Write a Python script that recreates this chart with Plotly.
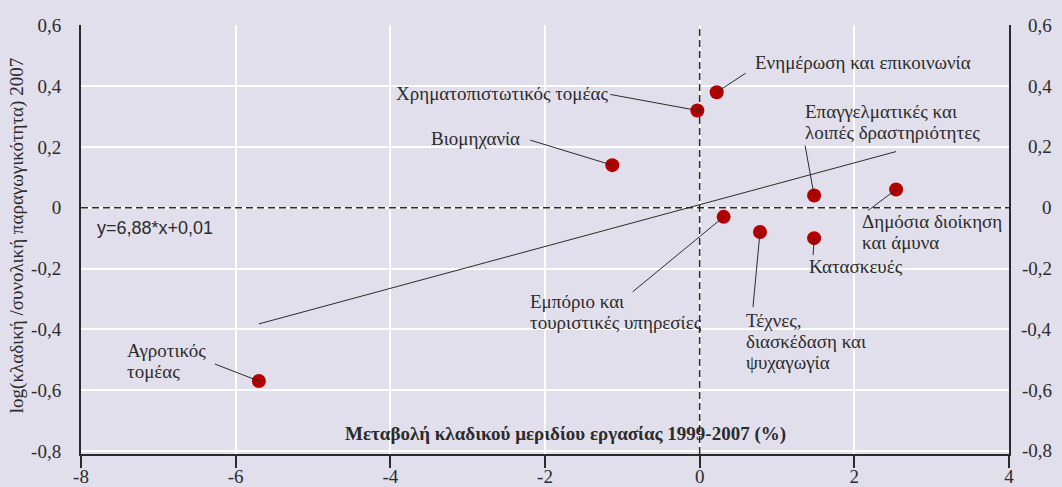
import plotly.graph_objects as go

# Sector data: change in sector labour share 1999-2007 (%) vs log relative productivity 2007
sectors = [
    "Αγροτικός<br>τομέας",
    "Βιομηχανία",
    "Χρηματοπιστωτικός τομέας",
    "Ενημέρωση και επικοινωνία",
    "Επαγγελματικές και<br>λοιπές δραστηριότητες",
    "Δημόσια διοίκηση<br>και άμυνα",
    "Εμπόριο και<br>τουριστικές υπηρεσίες",
    "Τέχνες,<br>διασκέδαση και<br>ψυχαγωγία",
    "Κατασκευές",
]
labor_share_change = [-5.70, -1.13, -0.03, 0.22, 1.48, 2.54, 0.31, 0.78, 1.48]
rel_productivity = [-0.57, 0.14, 0.32, 0.38, 0.04, 0.06, -0.03, -0.08, -0.10]

# Fitted trend (x expressed as a fraction): y = 6,88*x + 0,01
slope = 6.88
intercept = 0.01

x_ticks = [-8, -6, -4, -2, 0, 2, 4]
x_ticktext = ["-8", "-6", "-4", "-2", "0", "2", "4"]
y_ticks = [0.6, 0.4, 0.2, 0, -0.2, -0.4, -0.6, -0.8]
y_ticktext = ["0,6", "0,4", "0,2", "0", "-0,2", "-0,4", "-0,6", "-0,8"]

# Label placement: (xanchor, xshift px, yshift px of block centre) and leader end offset (dx, dy px)
label_pos = {
    "Αγροτικός<br>τομέας": ("left", -134, 20, -44, 17),
    "Βιομηχανία": ("right", -90, 27, -82, 25),
    "Χρηματοπιστωτικός τομέας": ("right", -87, 17, -87, 16),
    "Ενημέρωση και επικοινωνία": ("left", 36, 30, 29, 19),
    "Επαγγελματικές και<br>λοιπές δραστηριότητες": ("left", -11, 74, -9, 50),
    "Δημόσια διοίκηση<br>και άμυνα": ("left", -36, -43, -28, -21),
    "Εμπόριο και<br>τουριστικές υπηρεσίες": ("left", -196, -95, -91, -75),
    "Τέχνες,<br>διασκέδαση και<br>ψυχαγωγία": ("left", -16, -109, -7, -75),
    "Κατασκευές": ("left", -7, -28, -1, -17),
}
LINE_GAP = 21  # px between lines of a multi-line label

BG = "#e2dfec"
INK = "#2b2b2b"
SERIF = "Liberation Serif, Times New Roman, serif"
LABEL_SIZE = 19

fig = go.Figure()

# Trend line across the observed range
x_min, x_max = min(labor_share_change), max(labor_share_change)
fig.add_trace(go.Scatter(
    x=[x_min, x_max],
    y=[slope * x_min / 100 + intercept, slope * x_max / 100 + intercept],
    mode="lines", line=dict(color=INK, width=1), hoverinfo="skip", showlegend=False,
))

shapes = []
# Zero reference lines (dashed), laid over a background-coloured strip hiding the grid
for ref in ("x", "y"):
    if ref == "x":
        base = dict(type="line", xref="x", yref="paper", x0=0, x1=0, y0=0, y1=1)
    else:
        base = dict(type="line", xref="paper", yref="y", x0=0, x1=1, y0=0, y1=0)
    shapes.append(dict(base, line=dict(color=BG, width=2.5), layer="below"))
    shapes.append(dict(base, line=dict(color=INK, width=1.5, dash="7px,4px"), layer="above"))

annotations = []
for name, xv, yv in zip(sectors, labor_share_change, rel_productivity):
    anchor, xs, ys, dx, dy = label_pos[name]
    shapes.append(dict(
        type="line", xsizemode="pixel", ysizemode="pixel",
        xanchor=xv, yanchor=yv, xref="x", yref="y",
        x0=0, y0=0, x1=dx, y1=dy,
        line=dict(color=INK, width=1),
    ))
    lines = name.split("<br>")
    n = len(lines)
    for i, line_text in enumerate(lines):
        annotations.append(dict(
            x=xv, y=yv, xref="x", yref="y", text=line_text, showarrow=False,
            xanchor=anchor, yanchor="middle", align="left",
            xshift=xs, yshift=ys + (n - 1) / 2 * LINE_GAP - i * LINE_GAP,
            font=dict(family=SERIF, size=LABEL_SIZE, color=INK),
        ))

# Points
fig.add_trace(go.Scatter(
    x=labor_share_change, y=rel_productivity, mode="markers",
    marker=dict(color="#b00000", size=14, line=dict(width=0)),
    hoverinfo="skip", showlegend=False,
))

# Regression equation
annotations.append(dict(
    x=0.015, y=-0.068, xref="paper", yref="y", text="y=6,88*x+0,01",
    showarrow=False, xanchor="left", yanchor="middle",
    font=dict(family="Liberation Sans, Arial, sans-serif", size=18, color=INK),
))

# Axis titles
annotations.append(dict(
    x=-1.73, y=-0.745, xref="x", yref="y",
    text="<b>Μεταβολή κλαδικού μεριδίου εργασίας 1999-2007 (%)</b>",
    showarrow=False, xanchor="center", yanchor="middle",
    font=dict(family=SERIF, size=19, color=INK),
))
annotations.append(dict(
    x=-0.069, y=0.51, xref="paper", yref="paper",
    text="log(κλαδική /συνολική παραγωγικότητα) 2007",
    textangle=-90, showarrow=False, xanchor="center", yanchor="middle",
    font=dict(family=SERIF, size=19, color=INK),
))

# Right-hand tick labels mirroring the left axis
for val, txt in zip(y_ticks, y_ticktext):
    annotations.append(dict(
        x=1, y=val, xref="paper", yref="y", text=txt, showarrow=False,
        xanchor="right", yanchor="middle", xshift=45,
        font=dict(family=SERIF, size=19, color=INK),
    ))

fig.update_layout(
    width=1062, height=487,
    margin=dict(l=81, r=53, t=25, b=33),
    paper_bgcolor=BG, plot_bgcolor=BG,
    shapes=shapes, annotations=annotations,
    showlegend=False,
    xaxis=dict(
        range=[-8, 4], tickvals=x_ticks, ticktext=x_ticktext, automargin=False,
        showgrid=True, gridcolor="white", gridwidth=2, zeroline=False,
        showline=True, linecolor=INK, linewidth=2,
        ticks="outside", ticklen=12, tickwidth=2, tickcolor=INK,
        ticklabelstandoff=-8,
        tickfont=dict(family=SERIF, size=19, color=INK),
    ),
    yaxis=dict(
        range=[-0.81, 0.601], tickvals=y_ticks, ticktext=y_ticktext, automargin=False,
        showgrid=True, gridcolor="white", gridwidth=1.5, zeroline=False,
        showline=True, linecolor=INK, linewidth=2, mirror=True,
        ticks="", ticklabelstandoff=14,
        tickfont=dict(family=SERIF, size=19, color=INK),
    ),
)

fig.write_html("out.html")
